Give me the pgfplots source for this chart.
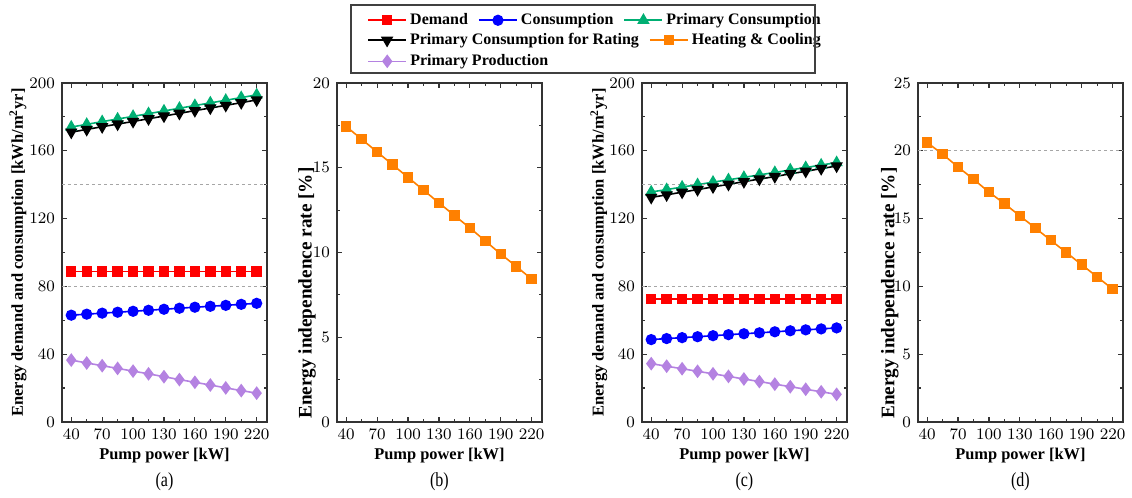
\documentclass[border=0pt]{standalone}
\usepackage{fontspec}
\setmainfont{Liberation Serif}
\newfontfamily\narrowfont{Liberation Serif}[FakeStretch=0.8]
\usepackage{pgfplots}
\usepackage{pgfplotstable}
\pgfplotsset{compat=1.18}

\definecolor{cDem}{RGB}{255,0,0}
\definecolor{cCon}{RGB}{0,0,255}
\definecolor{cPC}{RGB}{0,175,115}
\definecolor{cPCR}{RGB}{0,0,0}
\definecolor{cHC}{RGB}{255,128,0}
\definecolor{cPP}{RGB}{180,130,225}

% pump power [kW] vs energy [kWh/m2yr]
\pgfplotstableread{
x   dem   con    pc     pcr    pp
40  88.8  63.0   174.0  171.0  36.5
55  88.8  63.6   175.6  172.6  34.8
70  88.8  64.2   177.2  174.2  33.2
85  88.8  64.75  178.75 175.75 31.6
100 88.8  65.3   180.3  177.3  30.0
115 88.8  65.9   181.9  178.9  28.4
130 88.8  66.5   183.5  180.5  26.7
145 88.8  67.1   185.1  182.1  25.0
160 88.8  67.7   186.7  183.7  23.4
175 88.8  68.25  188.25 185.25 21.8
190 88.8  68.8   189.8  186.8  20.1
205 88.8  69.4   191.4  188.4  18.5
220 88.8  70.0   193.0  190.0  17.0
}\dataA

\pgfplotstableread{
x   dem   con    pc     pcr    pp
40  72.5  48.6   135.7  132.5  34.4
55  72.5  49.2   137.1  134.0  32.9
70  72.5  49.75  138.6  135.6  31.4
85  72.5  50.3   140.0  137.1  29.9
100 72.5  50.9   141.5  138.7  28.4
115 72.5  51.5   142.9  140.2  26.9
130 72.5  52.05  144.3  141.8  25.35
145 72.5  52.6   145.8  143.3  23.85
160 72.5  53.2   147.2  144.8  22.3
175 72.5  53.8   148.7  146.4  20.8
190 72.5  54.35  150.1  147.9  19.3
205 72.5  54.9   151.6  149.5  17.8
220 72.5  55.5   153.0  151.0  16.3
}\dataC

% energy independence rate [%]
\pgfplotstableread{
x   b      d
40  17.43  20.6
55  16.68  19.75
70  15.93  18.8
85  15.18  17.9
100 14.43  16.95
115 13.68  16.1
130 12.93  15.2
145 12.18  14.3
160 11.45  13.4
175 10.68  12.5
190 9.91   11.6
205 9.18   10.7
220 8.43   9.8
}\dataBD

\begin{document}
\begin{tikzpicture}
    \tikzset{panel tag/.style={font=\narrowfont\fontsize{10}{11}\selectfont, yshift=-30pt}}
    \pgfplotsset{
        panel/.style={
                scale only axis,
                width=102.5pt,
                height=169.5pt,
                anchor=south west,
                clip=false,
                xmin=31, xmax=230,
                ymin=0,
                xtick={40,70,...,220},
                minor x tick num=1,
                minor y tick num=1,
                tick align=inside,
                axis line style={line width=1pt, black!80},
                major tick length=2.5pt,
                minor tick length=1.5pt,
                every tick/.style={black!80, line width=0.6pt},
                tick label style={font=\narrowfont\fontsize{7.9}{8}\selectfont},
                xlabel={Pump power [kW]},
                xlabel style={at={(axis description cs:0.5,-0.1)}, anchor=center,
                        font=\bfseries\fontsize{8.2}{9}\selectfont},
                legend style={draw=none, fill=none, inner sep=0pt, anchor=west,
                        font=\bfseries\fontsize{8}{9}\selectfont,
                        nodes={inner xsep=1.6pt},
                        /tikz/every even column/.append style={column sep=3.5pt}},
                legend columns=-1,
                legend image code/.code={
                        \draw[mark repeat=2,mark phase=2] plot coordinates {(0pt,0pt) (9.5pt,0pt) (19pt,0pt)};
                    },
            },
        energy/.style={panel, ymax=200, ytick={0,40,...,200},
                ylabel={Energy demand and consumption [kWh/m$^\mathbf{2}$yr]},
                ylabel style={font=\bfseries\fontsize{8.25}{9}\selectfont, anchor=center}},
        rate/.style={panel, ytick={0,5,...,25},
                ylabel={Energy independence rate [\%]},
                ylabel style={font=\bfseries\fontsize{9.6}{10}\selectfont, anchor=center}},
        refline/.style={gray!70, line width=0.5pt, dash pattern=on 1.5pt off 1.5pt, forget plot},
        sDem/.style={cDem, line width=0.8pt, mark=square*, mark size=2.2pt},
        sCon/.style={cCon, line width=0.8pt, mark=*, mark size=2.4pt},
        sPC/.style={cPC, line width=0.8pt, mark=triangle*, mark size=2.8pt},
        sPCR/.style={cPCR, line width=0.8pt, mark=triangle*, mark size=2.8pt, mark options={rotate=180}},
        sHC/.style={cHC, line width=0.8pt, mark=square*, mark size=2.2pt},
        sPP/.style={cPP, line width=0.8pt, mark=diamond*, mark size=2.8pt},
    }

    % (a)
    \begin{axis}[energy, at={(31pt,38pt)},
            ylabel style={at={(axis description cs:-0.215,0.5)}},
            legend style={at={(axis description cs:1.488,1.185)}}]
        \addplot[sDem] table[x=x, y=dem] {\dataA};
        \addplot[sCon] table[x=x, y=con] {\dataA};
        \addplot[sPC] table[x=x, y=pc] {\dataA};
        \addplot[sPCR] table[x=x, y=pcr] {\dataA};
        \addplot[sPP] table[x=x, y=pp] {\dataA};
        \addplot[refline] coordinates {(31,140) (230,140)};
        \addplot[refline] coordinates {(31,80) (230,80)};
        \legend{Demand, Consumption, Primary Consumption}
        \node[panel tag] at (rel axis cs:0.5,0) {(a)};
    \end{axis}

    % (b)
    \begin{axis}[rate, at={(168.5pt,38pt)}, ymax=20,
            ylabel style={at={(axis description cs:-0.146,0.38)}},
            legend style={at={(axis description cs:0.146,1.126)}}]
        \addlegendimage{sPCR}
        \addplot[sHC] table[x=x, y=b] {\dataBD};
        \legend{Primary Consumption for Rating, Heating \& Cooling}
        \node[panel tag] at (rel axis cs:0.5,0) {(b)};
    \end{axis}

    % (c)
    \begin{axis}[energy, at={(321pt,38pt)},
            ylabel style={at={(axis description cs:-0.21,0.5)}},
            legend style={at={(axis description cs:-1.341,1.064)}}]
        \addplot[sPP] table[x=x, y=pp] {\dataC};
        \addplot[sDem] table[x=x, y=dem] {\dataC};
        \addplot[sCon] table[x=x, y=con] {\dataC};
        \addplot[sPC] table[x=x, y=pc] {\dataC};
        \addplot[sPCR] table[x=x, y=pcr] {\dataC};
        \addplot[refline] coordinates {(31,140) (230,140)};
        \addplot[refline] coordinates {(31,80) (230,80)};
        \legend{Primary Production}
        \node[panel tag] at (rel axis cs:0.5,0) {(c)};
    \end{axis}

    % (d)
    \begin{axis}[rate, at={(459pt,38pt)}, ymax=25,
            ylabel style={at={(axis description cs:-0.137,0.38)}}]
        \addplot[sHC] table[x=x, y=d] {\dataBD};
        \addplot[refline] coordinates {(31,20) (230,20)};
        \node[panel tag] at (rel axis cs:0.5,0) {(d)};
    \end{axis}

    % legend frame
    \draw[black!75, line width=0.6pt] (175.5pt,212.5pt) rectangle (407.5pt,246.5pt);
    \path[use as bounding box] (0pt,0pt) rectangle (566pt,249pt);
\end{tikzpicture}
\end{document}
